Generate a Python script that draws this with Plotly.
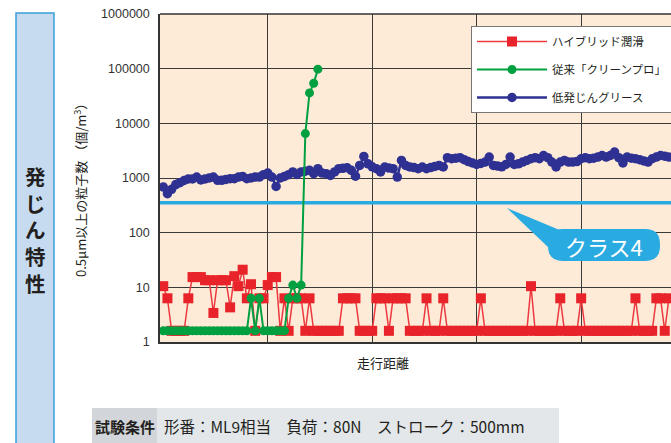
import plotly.graph_objects as go

# ---------------- data ----------------
distance = list(range(122))

hybrid = [
    10.5, 6.3, 1.6, 1.6, 1.6, 1.6, 6.3, 15.4, 15.4, 15.4,
    13.5, 13.5, 3.4, 13.5, 13.5, 13.5, 4.3, 16, 10.5, 21,
    6.3, 11.4, 1.6, 6.3, 6.3, 11, 15.4, 15.4, 1.6, 6.3,
    1.6, 6.3, 6.3, 6.3, 1.6, 6.3, 1.6, 1.6, 1.6, 1.6,
    1.6, 1.6, 1.6, 6.3, 6.3, 6.3, 6.3, 1.6, 1.6, 1.6,
    1.6, 6.3, 6.3, 6.3, 1.6, 6.3, 6.3, 6.3, 6.3, 1.6,
    1.6, 1.6, 1.6, 6.3, 1.6, 1.6, 1.6, 6.3, 1.6, 1.6,
    1.6, 1.6, 1.6, 1.6, 1.6, 1.6, 6.3, 1.6, 1.6, 1.6,
    1.6, 1.6, 1.6, 1.6, 1.6, 1.6, 1.6, 1.6, 10.5, 1.6,
    1.6, 1.6, 1.6, 1.6, 1.6, 6.3, 1.6, 1.6, 1.6, 1.6,
    6.3, 1.6, 1.6, 1.6, 1.6, 1.6, 1.6, 1.6, 1.6, 1.6,
    1.6, 1.6, 1.6, 6.3, 1.6, 1.6, 1.6, 1.6, 6.3, 6.3,
    1.6, 6.3,
]

clean_pro = [
    1.6, 1.6, 1.6, 1.6, 1.6, 1.6, 1.6, 1.6, 1.6, 1.6,
    1.6, 1.6, 1.6, 1.6, 1.6, 1.6, 1.6, 1.6, 1.6, 1.6,
    1.6, 6.3, 1.6, 6.3, 1.6, 1.6, 1.6, 1.6, 1.6, 1.6,
    6.3, 11, 6.3, 11, 6500, 36000, 54000, 98000,
]

low_dust = [
    685, 517, 620, 760, 820, 900, 960, 960, 1040, 920,
    960, 1000, 1040, 905, 905, 940, 970, 970, 1040, 1070,
    970, 1000, 1040, 1040, 1150, 1230, 1040, 700, 1000, 1070,
    1150, 1290, 1160, 1290, 1330, 1380, 1200, 1480, 1230, 1200,
    1115, 1290, 1480, 1500, 1540, 1380, 1080, 1700, 2480, 1820,
    1600, 1480, 1290, 1590, 1520, 1480, 1040, 2100, 1700, 1590,
    1550, 1480, 1590, 1480, 1550, 1630, 1700, 1590, 2350, 2250,
    2300, 2350, 2160, 2000, 1880, 1770, 1850, 1960, 2410, 1700,
    1650, 1600, 1770, 2410, 1770, 1820, 1960, 2100, 2250, 2350,
    2250, 2580, 2350, 1960, 1590, 1960, 2100, 1960, 1960, 2000,
    2250, 2350, 2250, 2300, 2410, 2580, 2410, 2580, 2980, 2350,
    1880, 2410, 2300, 2250, 2160, 2050, 1960, 2250, 2410, 2580,
    2500, 2410,
]

class4 = 352

series_names = ["ハイブリッド潤滑", "従来「クリーンプロ」", "低発じんグリース"]
y_ticks = [1, 10, 100, 1000, 10000, 100000, 1000000]
y_tick_text = ["1", "10", "100", "1000", "10000", "100000", "1000000"]
x_grid = [25, 50, 75, 100]

# ---------------- layout helpers ----------------
W, H = 671, 443
PL, PT, PR, PB = 160, 14, 671, 342
x_range = [-0.78, 121.5]


def px(x):
    return (x - PL) / (PR - PL)


def py(y):
    return (PB - y) / (PB - PT)


FONT = "Liberation Sans, Arial, Noto Sans CJK JP, sans-serif"
JFONT = "Noto Sans CJK JP, Liberation Sans, sans-serif"
RED = "#e8232a"
GREEN = "#00a040"
NAVY = "#2e3192"
CYAN = "#29abe2"
TXT = "#231f20"

fig = go.Figure()

fig.add_trace(go.Scatter(
    x=x_range, y=[class4, class4], mode="lines",
    line=dict(color=CYAN, width=3.5), showlegend=False, hoverinfo="skip"))

fig.add_trace(go.Scatter(
    x=distance[:len(low_dust)], y=low_dust, mode="lines+markers", name=series_names[2],
    line=dict(color=NAVY, width=2.5), marker=dict(symbol="circle", size=9.5, color=NAVY),
    legendrank=3, legendgroup="c"))

fig.add_trace(go.Scatter(
    x=distance[:len(hybrid)], y=hybrid, mode="lines+markers", name=series_names[0],
    line=dict(color="#ec3a40", width=1.5), marker=dict(symbol="square", size=10, color=RED),
    legendrank=1, legendgroup="a"))

fig.add_trace(go.Scatter(
    x=distance[:len(clean_pro)], y=clean_pro, mode="lines+markers", name=series_names[1],
    line=dict(color=GREEN, width=2), marker=dict(symbol="circle", size=9, color=GREEN),
    legendrank=2, legendgroup="b"))

# pill for クラス4
bx0, bx1, by0, by1, r = 548, 660, 229, 261, 15


def P(x, y):
    return f"{px(x):.5f},{py(y):.5f}"


pill = (f"M{P(bx0 + r, by0)} L{P(bx1 - r, by0)} Q{P(bx1, by0)} {P(bx1, by0 + r)} "
        f"L{P(bx1, by1 - r)} Q{P(bx1, by1)} {P(bx1 - r, by1)} L{P(bx0 + r, by1)} "
        f"Q{P(bx0, by1)} {P(bx0, by1 - r)} L{P(bx0, by0 + r)} Q{P(bx0, by0)} {P(bx0 + r, by0)} Z")
pointer = f"M{P(507, 208)} L{P(562, 231)} L{P(549, 248)} Z"

shapes = [
    dict(type="rect", xref="paper", yref="paper", x0=px(16), x1=px(54), y0=py(470), y1=py(13),
         fillcolor="#c6dbef", line=dict(color="#3aa0dc", width=1.5), layer="below"),
    dict(type="rect", xref="paper", yref="paper", x0=px(92), x1=px(157), y0=py(450), y1=py(408),
         fillcolor="#d2d6da", line=dict(width=0), layer="below"),
    dict(type="rect", xref="paper", yref="paper", x0=px(157), x1=px(559), y0=py(450), y1=py(408),
         fillcolor="#e3e7ea", line=dict(width=0), layer="below"),
    dict(type="line", xref="paper", yref="paper", x0=0, x1=1, y0=1, y1=1,
         line=dict(color="#333333", width=1.5)),
    dict(type="path", xref="paper", yref="paper", path=pointer, fillcolor=CYAN,
         line=dict(width=0), layer="above"),
    dict(type="path", xref="paper", yref="paper", path=pill, fillcolor=CYAN,
         line=dict(width=0), layer="above"),
]


def ann(x, y, text, size, color=TXT, xanchor="center", angle=0):
    return dict(xref="paper", yref="paper", x=px(x), y=py(y), text=text, textangle=angle,
                xanchor=xanchor, yanchor="middle", showarrow=False,
                font=dict(family=JFONT, size=size, color=color))


annotations = [
    ann(80, 187, "0.5μm以上の粒子数 （個/m<sup>3</sup>）", 13, angle=-90),
    ann(383, 362, "走行距離", 13),
    ann(125, 426, "<b>試験条件</b>", 15),
    ann(162, 426, "形番：ML9相当　負荷：80N　ストローク：500mm", 15.5, xanchor="left"),
    ann(604, 246, "クラス4", 22, color="white"),
    ann(35, 230, "<b>" + "<br>".join("発じん特性") + "</b>", 20.5),
]

fig.update_layout(
    width=W, height=H,
    margin=dict(l=PL, r=W - PR, t=PT, b=H - PB, pad=0, autoexpand=False),
    paper_bgcolor="white", plot_bgcolor="#fdebd8",
    font=dict(family=FONT, color=TXT),
    shapes=shapes, annotations=annotations,
    legend=dict(x=px(471), y=py(26), xanchor="left", yanchor="top",
                bgcolor="white", bordercolor="#777777", borderwidth=1,
                font=dict(family=JFONT, size=11.5, color=TXT),
                itemwidth=70, tracegroupgap=9, traceorder="grouped"),
    xaxis=dict(range=x_range, tickvals=x_grid, showticklabels=False, ticks="",
               showgrid=True, gridcolor="#3a3a3a", gridwidth=1, zeroline=False,
               showline=True, linecolor="#333333", linewidth=1.5, fixedrange=True),
    yaxis=dict(type="log", range=[0, 6], tickvals=y_ticks, ticktext=y_tick_text, ticks="",
               showgrid=True, gridcolor="#3a3a3a", gridwidth=1, zeroline=False,
               showline=True, linecolor="#333333", linewidth=1.5, ticklabelstandoff=6,
               tickfont=dict(family=FONT, size=12.5, color="#333333"), fixedrange=True),
    showlegend=True,
)

fig.write_html(
    "out.html",
    config={"displayModeBar": False},
    post_script="document.body.style.margin='0';document.body.style.overflow='hidden';"
                "document.documentElement.style.overflow='hidden';",
)
